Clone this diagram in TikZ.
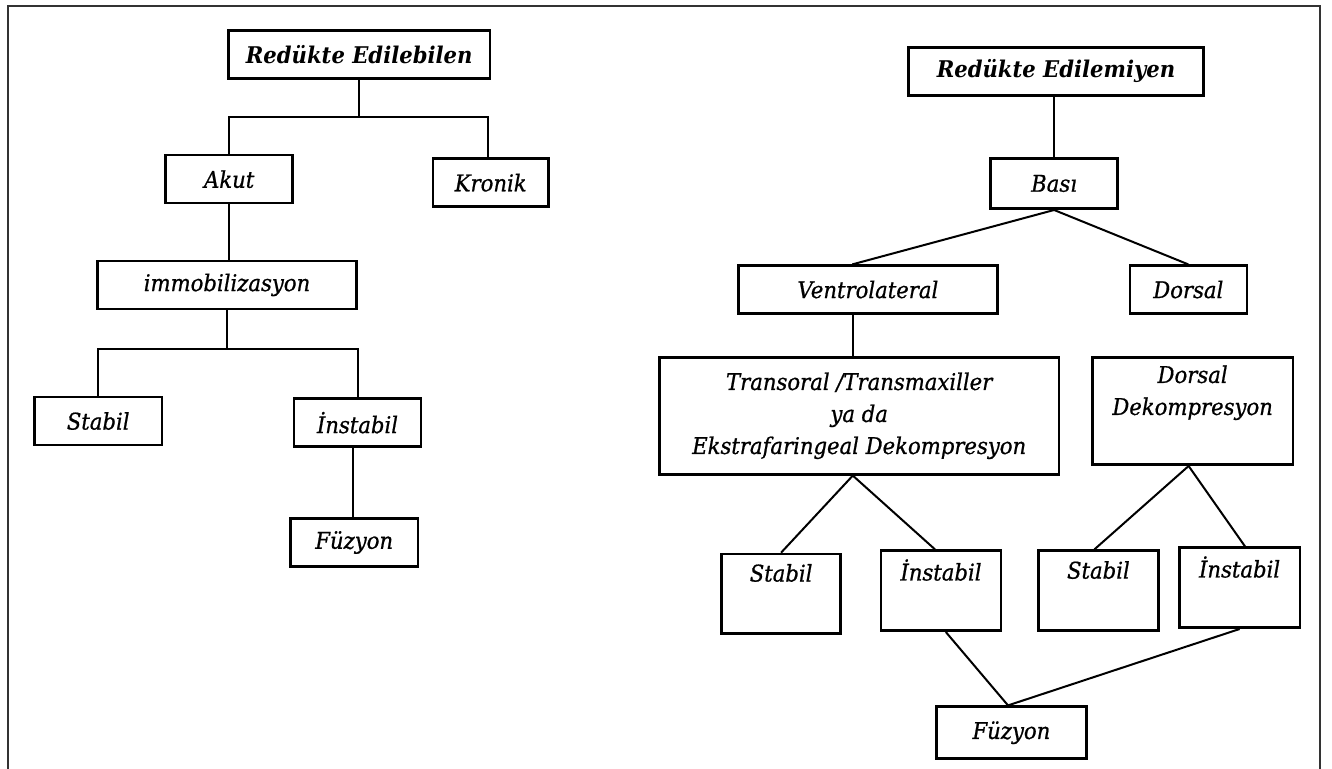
\documentclass[tikz,border=0pt]{standalone}
\usepackage{fontspec}
\setmainfont{DejaVu Serif}[FakeStretch=0.92,ItalicFeatures={FakeBold=0.8}]

\begin{document}
\begin{tikzpicture}[x=0.5pt,y=-0.5pt]
	\tikzset{box/.style={draw,line width=1.3pt,align=center,inner sep=0pt,font=\fontsize{11.5}{16}\selectfont\itshape}}
	\tikzset{topbox/.style={box,font=\fontsize{11.5}{16}\selectfont\bfseries\itshape}}
	\tikzset{sz/.style 2 args={minimum width=#1*0.5pt,minimum height=#2*0.5pt}}
	\tikzset{link/.style={line width=1pt}}
	\useasboundingbox (0,0) rectangle (1332,769);
	\fill[white] (0,0) rectangle (1332,769);
	\draw[line width=1pt,black!80] (7.7,769) -- (7.7,5.7) -- (1320,5.7) -- (1320,769);
	% reducible
	\node[topbox,sz={261.5}{48}] (edb) at (359.2,54.7) {Redükte Edilebilen};
	\node[box,sz={127}{48}] (akut) at (229.2,179.2) {Akut};
	\node[box,sz={115.4}{48}] (kronik) at (490.7,182.7) {Kronik};
	\node[box,sz={259.5}{48}] (immo) at (227,284.9) {immobilizasyon};
	\node[box,sz={127.5}{48}] (stbA) at (98.2,421) {Stabil};
	\node[box,sz={127}{48}] (instA) at (357.5,422.7) {İnstabil};
	\node[box,sz={127.4}{48}] (fuzA) at (354.2,542.5) {Füzyon};
	\draw[link] (edb.south) -- ++(0,37) -| (akut.north);
	\draw[link] (edb.south) -- ++(0,37) -| ([xshift=-1.5pt]kronik.north);
	\draw[link] (akut.south) -- (akut.south |- immo.north);
	\draw[link] (immo.south) -- ++(0,38.7) -| (stbA.north);
	\draw[link] (immo.south) -- ++(0,38.7) -| (instA.north);
	\draw[link] ([xshift=-2.5pt]instA.south) -- ([xshift=-2.5pt]instA.south |- fuzA.north);
	% irreducible
	\node[topbox,sz={294.5}{48}] (edm) at (1056,71.3) {Redükte Edilemiyen};
	\node[box,sz={127}{50.4}] (basi) at (1054.1,183.5) {Bası};
	\node[box,sz={259.2}{47.6}] (ventro) at (867.9,289.5) {Ventrolateral};
	\node[box,sz={117}{47.6}] (dors) at (1188.3,289.5) {Dorsal};
	\node[box,sz={399.3}{117}] (trans) at (859.2,415.8) {Transoral /Transmaxiller\\ya da\\Ekstrafaringeal Dekompresyon};
	\node[box,sz={200.5}{107.4}] (dek) at (1192.6,411) {Dorsal\\Dekompresyon\\\strut};
	\node[box,sz={118.7}{79.3}] (stbB) at (781.1,593.6) {Stabil\\\strut};
	\node[box,sz={120}{80}] (instB) at (941,590.7) {İnstabil\\\strut};
	\node[box,sz={120.1}{80}] (stbC) at (1098.4,590.7) {Stabil\\\strut};
	\node[box,sz={120.4}{80}] (instC) at (1239.6,587.7) {İnstabil\\\strut};
	\node[box,sz={149.7}{52}] (fuzB) at (1011.4,732.7) {Füzyon};
	\draw[link] (basi.north) -- (basi.north |- edm.south);
	\draw[link] (basi.south) -- ([xshift=-7.8pt]ventro.north);
	\draw[link] (basi.south) -- (dors.north);
	\draw[link] ([xshift=-7.5pt]ventro.south) -- ([xshift=-7.5pt]ventro.south |- trans.north);
	\draw[link] ([xshift=-3.2pt]trans.south) -- (stbB.north);
	\draw[link] ([xshift=-3.2pt]trans.south) -- ([xshift=-3pt]instB.north);
	\draw[link] ([xshift=-2pt]dek.south) -- ([xshift=-2pt]stbC.north);
	\draw[link] ([xshift=-2pt]dek.south) -- ([xshift=2.7pt]instC.north);
	\draw[link] ([xshift=2.4pt]instB.south) -- ([xshift=-1.7pt]fuzB.north);
	\draw[link] (instC.south) -- ([xshift=-1.7pt]fuzB.north);
\end{tikzpicture}
\end{document}
